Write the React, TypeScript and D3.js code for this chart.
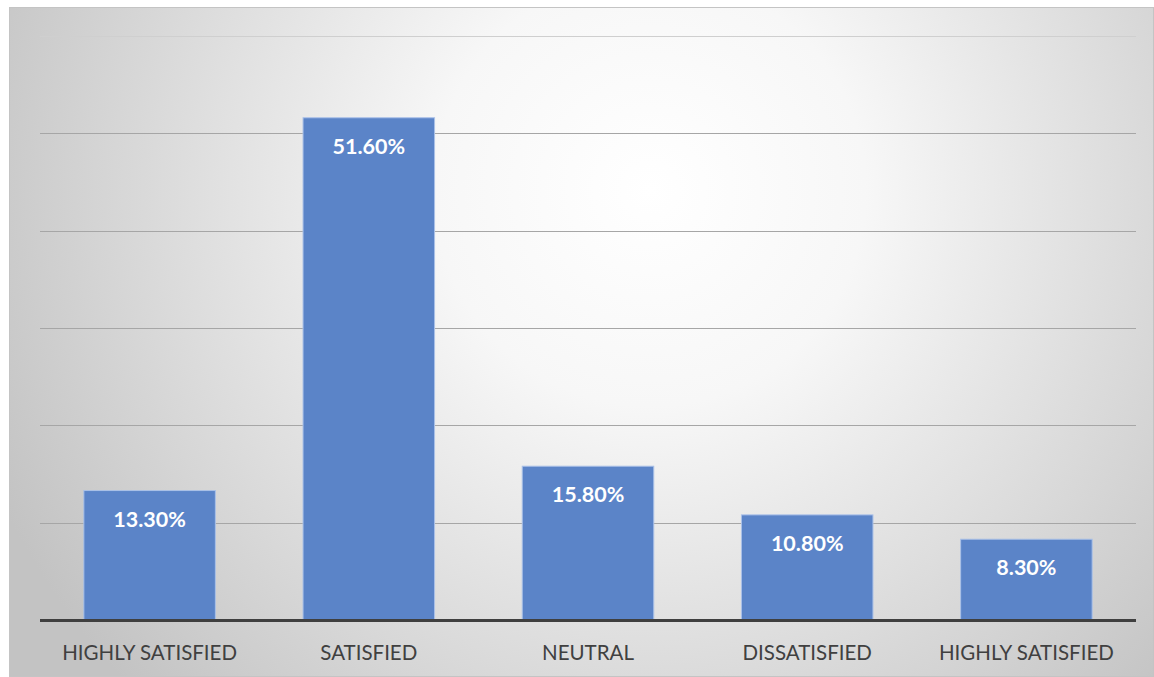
import React from "react";
import * as d3 from "d3";

const categories = ["HIGHLY SATISFIED", "SATISFIED", "NEUTRAL", "DISSATISFIED", "HIGHLY SATISFIED"];
const values = [13.3, 51.6, 15.8, 10.8, 8.3];
const yTicks = [0, 10, 20, 30, 40, 50, 60];

const W = 1154;
const H = 677;
const plot = { left: 40, right: 1136, top: 36, bottom: 620 };

export default function App() {
  const idx = categories.map((_, i) => String(i));
  const x = d3.scaleBand().domain(idx).range([plot.left, plot.right]).paddingInner(0.4).paddingOuter(0.2);
  const y = d3.scaleLinear().domain([0, 60]).range([plot.bottom, plot.top]);
  const font = "Lato, 'Open Sans', sans-serif";
  return (
    <svg width={W} height={H} style={{ position: "absolute", left: 0, top: 0, background: "#fff" }}>
      <defs>
        <radialGradient id="bg" gradientUnits="userSpaceOnUse" cx={650} cy={190} r={720}>
          <stop offset="0" stopColor="#ffffff" />
          <stop offset="0.3" stopColor="#f7f7f7" />
          <stop offset="1" stopColor="#c3c3c3" />
        </radialGradient>
      </defs>
      <rect x={9.5} y={7.5} width={W - 10} height={H - 8} fill="url(#bg)" stroke="#c4c4c4" strokeWidth={1} />
      {yTicks.filter((t) => t > 0).map((t) => (
        <line key={t} x1={plot.left} x2={plot.right} y1={Math.round(y(t)) + 0.5} y2={Math.round(y(t)) + 0.5}
          stroke={t === 60 ? "#cfcfcf" : "#a6a6a6"} strokeWidth={1} />
      ))}
      {values.map((v, i) => (
        <g key={i}>
          <rect x={x(String(i))!} y={y(v)} width={x.bandwidth()} height={y(0) - y(v)}
            fill="#5b84c8" stroke="#aac1e8" strokeWidth={1} />
          <text x={x(String(i))! + x.bandwidth() / 2} y={y(v) + 36} textAnchor="middle"
            fill="#ffffff" fontWeight="bold" fontSize={21.5} fontFamily={font}>
            {v.toFixed(2)}%
          </text>
          <text x={x(String(i))! + x.bandwidth() / 2} y={660} textAnchor="middle"
            fill="#404040" fontSize={20.5} fontFamily={font}>
            {categories[i]}
          </text>
        </g>
      ))}
      <line x1={plot.left} x2={plot.right} y1={y(0) + 0.5} y2={y(0) + 0.5} stroke="#3f3f3f" strokeWidth={3} />
    </svg>
  );
}
